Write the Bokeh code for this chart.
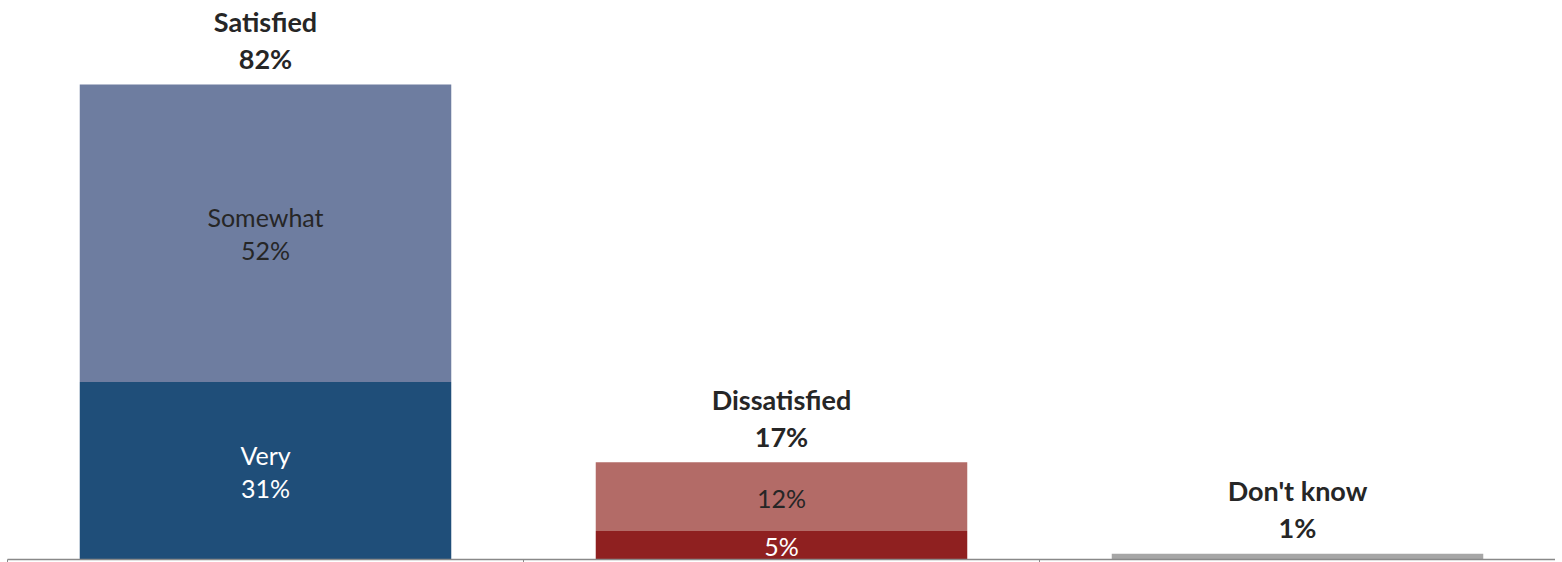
import numpy as np
from bokeh.plotting import figure
from bokeh.models import Range1d, FixedTicker, ColumnDataSource
from bokeh.core.properties import value
from bokeh.embed import file_html
from bokeh.resources import INLINE

categories = ["Satisfied", "Dissatisfied", "Don't know"]
lower_vals = [31, 5, 1]
upper_vals = [52, 12, 0]
totals = [82, 17, 1]
lower_names = ["Very", "", ""]
upper_names = ["Somewhat", "", ""]

lower_colors = ["#1F4E79", "#8F2020", "#A6A6A6"]
upper_colors = ["#6E7DA0", "#B36B67", "#A6A6A6"]
lower_text_colors = ["#FFFFFF", "#FFFFFF", "#262626"]
upper_text_colors = ["#262626", "#262626", "#262626"]

FONT = "Lato"
x = np.arange(len(categories)) + 0.5
lower = np.array(lower_vals, dtype=float)
upper = np.array(upper_vals, dtype=float)
top = lower + upper

p = figure(width=1555, height=562, output_backend="svg", toolbar_location=None,
           x_range=Range1d(0, 3), y_range=Range1d(0, 96.1),
           min_border_left=7, min_border_right=0, min_border_top=9, min_border_bottom=0)
p.outline_line_color = None
p.grid.visible = False
p.yaxis.visible = False
p.background_fill_color = "white"

ax = p.xaxis[0]
ax.ticker = FixedTicker(ticks=[0, 1, 2, 3])
ax.major_label_overrides = {0: "", 1: "", 2: "", 3: ""}
ax.major_label_text_font_size = "0px"
ax.major_label_standoff = 0
ax.major_tick_in = 0
ax.major_tick_out = 3
ax.minor_tick_line_color = None
ax.axis_line_color = "#898989"
ax.major_tick_line_color = "#898989"
ax.axis_line_width = 1.5

W = 0.72
p.vbar(x=x, bottom=0, top=lower, width=W, fill_color=lower_colors, line_color=None)
p.vbar(x=x, bottom=lower, top=top, width=W, fill_color=upper_colors, line_color=None)

# segment labels
rows = dict(x=[], y=[], text=[], off=[], color=[])
for i in range(len(categories)):
    for bot, val, name, col in ((0, lower_vals[i], lower_names[i], lower_text_colors[i]),
                                (lower_vals[i], upper_vals[i], upper_names[i], upper_text_colors[i])):
        if val <= 0 or (i == 2):
            continue
        mid = bot + val / 2
        if name:
            rows["x"] += [x[i], x[i]]
            rows["y"] += [mid, mid]
            rows["text"] += [name, f"{val}%"]
            rows["off"] += [-16, 17]
            rows["color"] += [col, col]
        else:
            rows["x"].append(x[i]); rows["y"].append(mid)
            rows["text"].append(f"{val}%"); rows["off"].append(1); rows["color"].append(col)
src = ColumnDataSource(rows)
p.text(x="x", y="y", text="text", y_offset="off", text_color="color", source=src,
       text_align="center", text_baseline="middle", text_font=value(FONT),
       text_font_size="25px")

# category totals
p.text(x=x, y=top, text=categories, y_offset=-63, text_align="center",
       text_baseline="middle", text_font=value(FONT), text_font_style="bold",
       text_font_size="27px", text_color="#262626")
p.text(x=x, y=top, text=[f"{t}%" for t in totals], y_offset=-26, text_align="center",
       text_baseline="middle", text_font=value(FONT), text_font_style="bold",
       text_font_size="27px", text_color="#262626")

open("out.html", "w").write(file_html(p, INLINE))
